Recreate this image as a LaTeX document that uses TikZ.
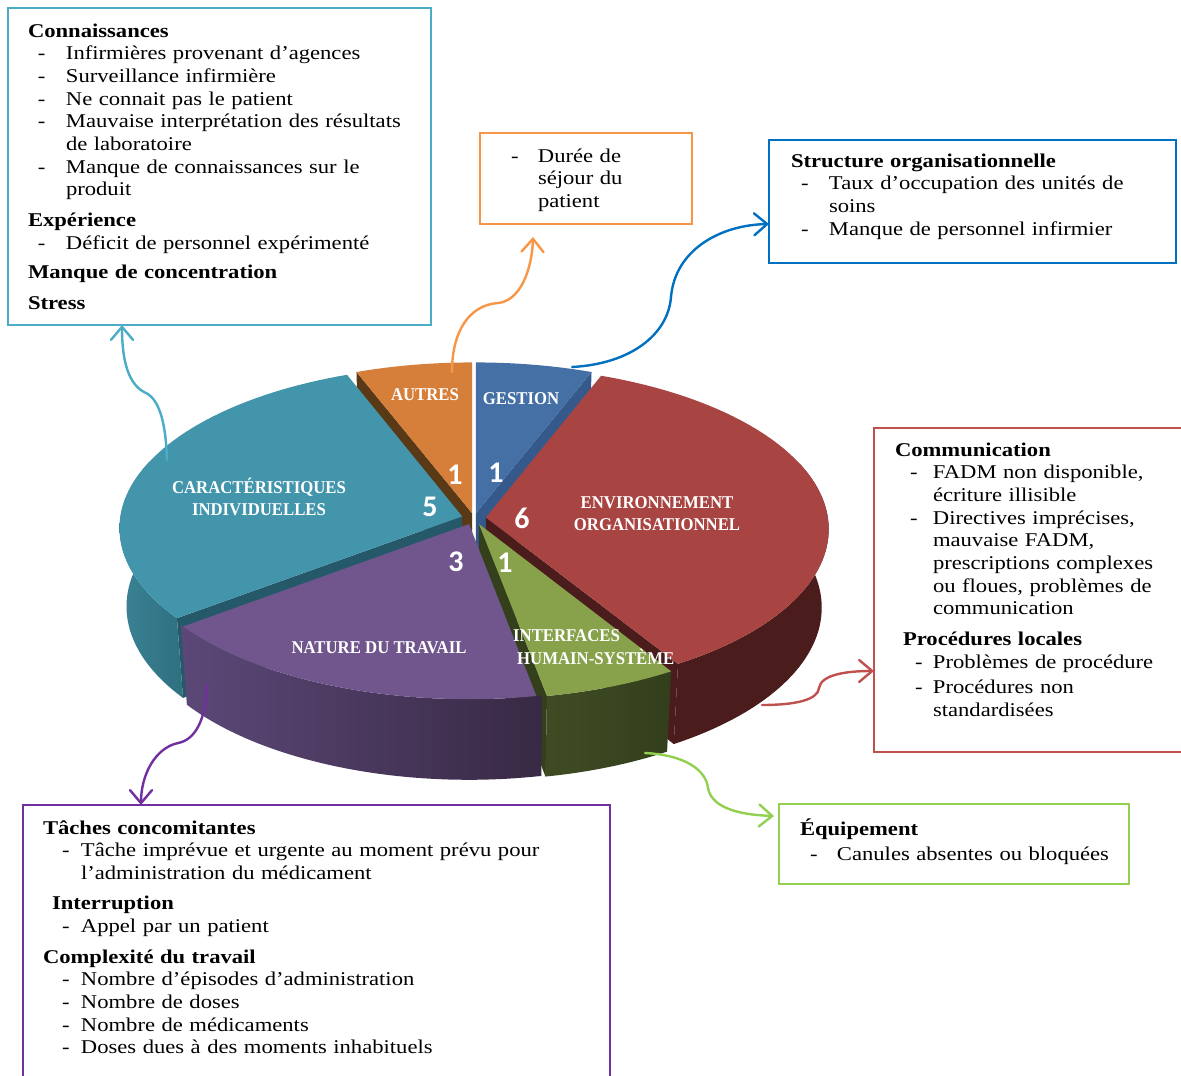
\documentclass[tikz,border=0pt]{standalone}
\usepackage{fontspec}
\setmainfont[FakeStretch=1.16]{Liberation Serif}
\newfontfamily\lblfont[FakeStretch=0.93]{Liberation Serif}
\newfontfamily\numfont{Carlito}
\usetikzlibrary{arrows.meta,calc}

\definecolor{tealbx}{HTML}{4BACC6}
\definecolor{orangebx}{HTML}{F79646}
\definecolor{bluebx}{HTML}{0070C0}
\definecolor{redbx}{HTML}{C0504D}
\definecolor{greenbx}{HTML}{92D050}
\definecolor{purplebx}{HTML}{7030A0}

\definecolor{carc}{HTML}{4395AC}
\definecolor{carface}{HTML}{25596A}
\definecolor{carsideL}{HTML}{3A8395}
\definecolor{carsideR}{HTML}{2F6F80}
\definecolor{autc}{HTML}{D67F3B}
\definecolor{autface}{HTML}{5A3916}
\definecolor{gestc}{HTML}{4470A6}
\definecolor{gestface}{HTML}{34598A}
\definecolor{envc}{HTML}{A84442}
\definecolor{envside}{HTML}{4A1C1C}
\definecolor{intc}{HTML}{87A24B}
\definecolor{intface}{HTML}{34401B}
\definecolor{intsideL}{HTML}{3F4C23}
\definecolor{intsideR}{HTML}{333F1C}
\definecolor{natc}{HTML}{70568C}
\definecolor{natsideL}{HTML}{5C4878}
\definecolor{natsideR}{HTML}{382944}

\def\piecx{474}\def\piecy{518}\def\pieA{342}\def\pieB{162}\def\pieC{80}
\def\piek{0.07}\def\piem{0.02}
\def\slEX{0}\def\slEY{0}

\tikzset{
  declare function={
    piew(\angT,\radR,\levZ)=1-\piek*(-\radR*cos(\angT)+(\slEY))+\piem*\levZ;
    piex(\angT,\radR,\levZ)=\piecx+\pieA*(\radR*sin(\angT)+(\slEX))/piew(\angT,\radR,\levZ);
    piey(\angT,\radR,\levZ)=\piecy+(\pieB*(-\radR*cos(\angT)+(\slEY))+\pieC*\levZ)/piew(\angT,\radR,\levZ);
  },
  txtblk/.style={anchor=base west, inner sep=0pt, outer sep=0pt, align=left,
    text width=#1, font=\fontsize{19.5}{22.7}\selectfont},
  boxst/.style={draw=#1, line width=2pt, inner sep=0pt, outer sep=0pt, anchor=north west},
  arr/.style={draw=#1, line width=2.4pt, line cap=round,
    -{Straight Barb[length=13pt,width=22pt,line cap=round]}},
  lbl/.style={text=white, inner sep=0pt, font=\lblfont\bfseries\fontsize{18}{22}\selectfont},
  numst/.style={text=white, inner sep=0pt, font=\numfont\bfseries\fontsize{30}{30}\selectfont},
}

\newcommand\setexpl[2]{\pgfmathsetmacro\slEX{#2*sin(#1)}\pgfmathsetmacro\slEY{-#2*cos(#1)}}
\newcommand\radface[2]{\path[fill=#2] ({piex(#1,0,0)},{piey(#1,0,0)}) -- ({piex(#1,1,0)},{piey(#1,1,0)}) -- ({piex(#1,1,1)},{piey(#1,1,1)}) -- ({piex(#1,0,1)},{piey(#1,0,1)}) -- cycle;}
\newcommand\curvside[3]{\path[#3] plot[domain=#1:#2,samples=50] ({piex(\x,1,0)},{piey(\x,1,0)}) -- plot[domain=#2:#1,samples=50] ({piex(\x,1,1)},{piey(\x,1,1)}) -- cycle;}
\newcommand\topface[3]{\path[fill=#3] ({piex(#1,0,0)},{piey(#1,0,0)}) -- plot[domain=#1:#2,samples=60] ({piex(\x,1,0)},{piey(\x,1,0)}) -- cycle;}

\newcommand\dashln[3]{\hspace*{#1pt}\makebox[#2pt][l]{-}#3}
\newcommand\contln[2]{\hspace*{#1pt}#2}

\begin{document}
\begin{tikzpicture}[x=1pt,y=-1pt]
\useasboundingbox (0,0) rectangle (1181,1076);
\clip (0,0) rectangle (1181,1076);
\fill[white] (0,0) rectangle (1181,1076);

% ---------- boxes ----------
\node[boxst=tealbx, minimum width=423pt, minimum height=317pt] (bteal) at (8,8) {};
\node[boxst=orangebx, minimum width=212pt, minimum height=91pt] (borange) at (480,133) {};
\node[boxst=bluebx, minimum width=407pt, minimum height=123pt] (bblue) at (769,140) {};
\node[boxst=redbx, minimum width=320pt, minimum height=324pt] (bred) at (874,428) {};
\node[boxst=greenbx, minimum width=350pt, minimum height=80pt] (bgreen) at (779,804) {};
\node[boxst=purplebx, minimum width=587pt, minimum height=285pt] (bpurple) at (23,805) {};

% ---------- box texts ----------
\node[txtblk=400pt] (tteal) at (28,37) {%
\textbf{Connaissances}\\
\dashln{10}{28}{Infirmières provenant d’agences}\\
\dashln{10}{28}{Surveillance infirmière}\\
\dashln{10}{28}{Ne connait pas le patient}\\
\dashln{10}{28}{Mauvaise interprétation des résultats}\\
\contln{38}{de laboratoire}\\
\dashln{10}{28}{Manque de connaissances sur le}\\
\contln{38}{produit}\\[8.3pt]
\textbf{Expérience}\\
\dashln{10}{28}{Déficit de personnel expérimenté}\\[6.3pt]
\textbf{Manque de concentration}\\[8.3pt]
\textbf{Stress}};

\node[txtblk=200pt] (torange) at (511,162) {%
\dashln{0}{27}{Durée de}\\
\contln{27}{séjour du}\\
\contln{27}{patient}};

\node[txtblk=400pt] (tblue) at (791,167) {%
\textbf{Structure organisationnelle}\\
\dashln{10}{28}{Taux d’occupation des unités de}\\
\contln{38}{soins}\\
\dashln{10}{28}{Manque de personnel infirmier}};

\node[txtblk=300pt] (tred) at (895,456) {%
\textbf{Communication}\\
\dashln{15}{23}{FADM non disponible,}\\
\contln{38}{écriture illisible}\\
\dashln{15}{23}{Directives imprécises,}\\
\contln{38}{mauvaise FADM,}\\
\contln{38}{prescriptions complexes}\\
\contln{38}{ou floues, problèmes de}\\
\contln{38}{communication}\\[8.3pt]
\contln{8}{\textbf{Procédures locales}}\\
\dashln{20}{18}{Problèmes de procédure}\\[2pt]
\dashln{20}{18}{Procédures non}\\
\contln{38}{standardisées}};

\node[txtblk=330pt] (tgreen) at (800,835) {%
\textbf{Équipement}\\[3pt]
\dashln{10}{27}{Canules absentes ou bloquées}};

\node[txtblk=560pt] (tpurple) at (43,834) {%
\textbf{Tâches concomitantes}\\
\dashln{19}{19}{Tâche imprévue et urgente au moment prévu pour}\\
\contln{38}{l’administration du médicament}\\[7.3pt]
\contln{9}{\textbf{Interruption}}\\
\dashln{19}{19}{Appel par un patient}\\[8.3pt]
\textbf{Complexité du travail}\\
\dashln{19}{19}{Nombre d’épisodes d’administration}\\
\dashln{19}{19}{Nombre de doses}\\
\dashln{19}{19}{Nombre de médicaments}\\
\dashln{19}{19}{Doses dues à des moments inhabituels}};

% ---------- 3D pie ----------
% Gestion (1): 0 -> 21.18
\setexpl{10.59}{0.03}
\radface{21.18}{gestface}
\topface{0}{21.18}{gestc}
% Autres (1): 338.82 -> 360
\setexpl{349.41}{0.03}
\radface{338.82}{autface}
\topface{338.82}{360}{autc}
% Caracteristiques individuelles (5): 232.94 -> 338.82
\setexpl{285.88}{0.036}
\radface{232.94}{carface}
\curvside{232.94}{290}{left color=carsideL,right color=carsideR}
\topface{232.94}{338.82}{carc}
% Environnement organisationnel (6): 21.18 -> 148.24
\setexpl{84.71}{0.035}
\radface{148.24}{envside}
\curvside{70}{148.24}{fill=envside}
\topface{21.18}{148.24}{envc}
% Interfaces (1): 148.24 -> 169.41
\setexpl{158.82}{0.04}
\radface{169.41}{intface}
\curvside{148.24}{169.41}{left color=intsideL,right color=intsideR}
\topface{148.24}{169.41}{intc}
% Nature du travail (3): 169.41 -> 232.94
\setexpl{201.18}{0.04}
\curvside{168.4}{233.6}{left color=natsideL,right color=natsideR}
\topface{169.41}{232.94}{natc}

% ---------- pie labels ----------
\node[lbl, align=center] (lcar) at (259,497) {CARACTÉRISTIQUES\\INDIVIDUELLES};
\node[lbl] (laut) at (425,395) {AUTRES};
\node[lbl] (lgest) at (521,399) {GESTION};
\node[lbl, align=center] (lenv) at (657,514) {ENVIRONNEMENT\\ORGANISATIONNEL};
\node[lbl, anchor=west] (lint1) at (513,636) {INTERFACES};
\node[lbl, anchor=west] (lint2) at (517,657) {HUMAIN-SYSTÈME};
\node[lbl] (lnat) at (379,648) {NATURE DU TRAVAIL};

\node[numst] (naut) at (455,475) {1};
\node[numst] (ngest) at (496,473) {1};
\node[numst] (ncar) at (430,507) {5};
\node[numst] (nenv) at (522,518) {6};
\node[numst] (nnat) at (456,562) {3};
\node[numst] (nint) at (505,563) {1};

% ---------- connectors ----------
\coordinate (scar) at (167,460);
\coordinate (saut) at (452,372);
\coordinate (sgest) at (572,367);
\coordinate (senv) at (762,705);
\coordinate (sint) at (645,753);
\coordinate (snat) at (207,685);

\draw[arr=tealbx] (scar) .. controls (166,425) and (160,400) .. (146,393)
  .. controls (128,385) and (122,360) .. ($(bteal.south west)+(114,0)$);
\draw[arr=orangebx] (saut) .. controls (452,330) and (470,305) .. (498,303)
  .. controls (520,301) and (532,270) .. ($(borange.south west)+(53,13)$);
\draw[arr=bluebx] (sgest) .. controls (630,364) and (668,335) .. (671,297)
  .. controls (675,250) and (720,225) .. ($(bblue.north west)+(0,84)$);
\draw[arr=redbx] (senv) .. controls (795,705) and (818,700) .. (819,688)
  .. controls (821,675) and (845,671) .. ($(bred.north west)+(0,243)$);
\draw[arr=greenbx] (sint) .. controls (685,755) and (706,770) .. (708,788)
  .. controls (712,810) and (745,815) .. ($(bgreen.north west)+(-5,12)$);
\draw[arr=purplebx] (snat) .. controls (206,720) and (195,740) .. (178,743)
  .. controls (155,748) and (141,775) .. ($(bpurple.north west)+(118,0)$);
\end{tikzpicture}
\end{document}
